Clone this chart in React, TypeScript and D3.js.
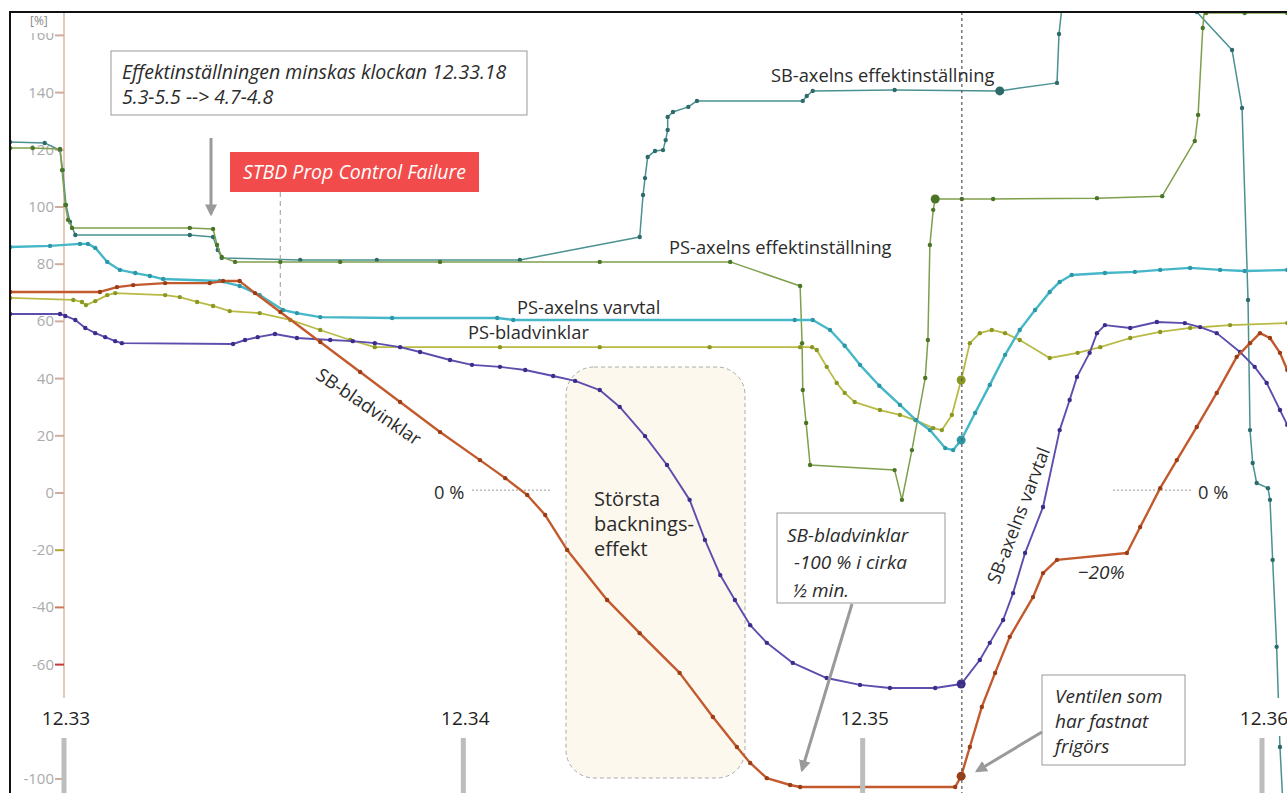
import React from "react";
import * as d3 from "d3";

// time in seconds after 12:33:00, value in %
const timeTickLabels = ["12.33", "12.34", "12.35", "12.36"];
const timeTickSeconds = [0, 60, 120, 180];
const yTickValues = [160, 140, 120, 100, 80, 60, 40, 20, 0, -20, -40, -60, -100];

type P = [number, number];

const sbEffekt: P[] = [
  [-8.1, 122.7], [-2.9, 122.4], [-0.6, 119.9], [-0.2, 112.9], [0.3, 100.7], [0.9, 94.8], [1.7, 90.2],
  [18.9, 90.2], [22.4, 89.5], [23.1, 85], [23.7, 82.2], [35.5, 81.5], [47, 81.5], [68.5, 81.5],
  [86.5, 89.5], [87, 104.2], [87.3, 110.1], [87.7, 117.5], [88.8, 119.6], [90, 119.9], [90.4, 123.4],
  [90.7, 126.9], [90.7, 131.5], [91.5, 133.2], [93.8, 135], [95.1, 137.1], [111, 137.1], [111.6, 138.8],
  [112.5, 140.6], [124.8, 140.9], [140.6, 140.6], [149.2, 143.4], [149.5, 160.5], [149.9, 168.9],
  [150.2, 174], [169.2, 174], [170.2, 168.2], [175.5, 154.9], [177, 134.6], [177.9, 67.5], [178.2, 22],
  [178.6, 10.5], [179.2, 3.5], [180.9, 1.7], [181.2, -2.4], [181.6, -23.4], [182.2, -53.8], [182.7, -88.8],
  [183.1, -107],
];

const psEffekt: P[] = [
  [-8.1, 120.6], [-4.7, 120.6], [-0.6, 120.3], [-0.3, 112.9], [0.2, 100.7], [0.6, 95.5], [1.2, 92.7],
  [18.9, 92.7], [22.4, 92.3], [23, 86.7], [23.7, 82.5], [25.7, 80.8], [32.5, 80.8], [41.5, 80.8],
  [56.5, 80.8], [80.5, 80.8], [100.1, 80.8], [110.6, 72.4], [110.9, 52.4], [111, 36], [111.5, 24.5],
  [112.1, 9.8], [124.8, 8], [125.9, -2.4], [127.4, 15], [129.4, 40.2], [129.8, 53.5], [130.1, 86.7],
  [130.6, 99], [130.9, 102.8], [134.9, 102.8], [139.6, 102.8], [155.2, 103.1], [165, 103.8],
  [169.9, 123.1], [170.4, 132.2], [171.1, 162.6], [171.4, 170.6], [171.6, 167.8], [177.4, 167.8], [183.8, 167.8],
];

const psVarvtal: P[] = [
  [-8.1, 86], [-2.1, 86.4], [2.4, 87.1], [3.6, 87.1], [4.7, 85.7], [6.5, 80.8], [8.4, 78], [10.7, 76.9],
  [12.9, 75.9], [14.9, 74.8], [23.4, 74.1], [26.4, 72.4], [29.4, 69.2], [32.9, 64], [35, 62.9],
  [38.5, 61.5], [49.3, 61.2], [65.1, 61.2], [67.5, 60.5], [109.8, 60.5], [112.5, 60.5], [115.1, 57],
  [117.3, 51.5], [119.6, 44.8], [122.5, 37.5], [125.6, 30.8], [128, 25.5], [130.1, 22], [132.4, 15.7],
  [133.6, 15], [134.8, 18.5], [136.9, 28], [139.1, 37.8], [141.4, 48.3], [143.6, 57], [145.9, 64],
  [148.1, 70.3], [149.6, 73.8], [151.4, 76.2], [156.4, 76.9], [160.9, 77.3], [164.7, 78], [169.2, 78.7],
  [173.7, 78], [177.4, 77.6], [183.8, 78],
];

const psBlad: P[] = [
  [-8.1, 68.2], [1.4, 67.5], [2.7, 66.8], [3.3, 65.7], [4.7, 67.1], [6.5, 69.2], [7.7, 69.9], [15.2, 69.2],
  [17.4, 68.5], [20, 66.8], [22.4, 65.4], [24.9, 63.6], [29.4, 62.9], [34, 60.5], [38.5, 57], [43, 53.5],
  [46.7, 51], [65.5, 51], [80.5, 51], [97, 51], [110.6, 51], [112.4, 51], [113.1, 50], [114.6, 44.1],
  [116.1, 38.5], [117.3, 35], [118.8, 31.8], [122.6, 29], [125.6, 27.3], [127.9, 25.5], [130.6, 22.7],
  [131.9, 22], [133.4, 27.3], [134.8, 39.5], [136.1, 52.4], [137.6, 55.9], [139.4, 57], [141.4, 55.9],
  [143.6, 53.5], [148.1, 47.2], [152.3, 49], [155.7, 51], [160.2, 54.2], [164.7, 56.3], [169.2, 57.7],
  [175.2, 58.7], [183.8, 59.4],
];

const sbVarvtal: P[] = [
  [-8.1, 62.6], [-0.6, 62.6], [0.2, 61.9], [1.7, 60.5], [3.2, 57.7], [4.7, 55.9], [6.2, 54.5], [7.7, 53.1],
  [8.7, 52.4], [25.4, 52.1], [27.2, 53.5], [29.1, 54.5], [31.7, 55.6], [35, 54.2], [40, 53.5], [43.4, 53.1],
  [46.7, 52.4], [50.5, 51], [53.5, 49.3], [58, 46.5], [61.3, 44.8], [65.5, 44.1], [69.3, 43], [73.5, 40.9],
  [76.8, 39.2], [80.5, 36], [83.5, 30.1], [87.3, 19.9], [90.6, 9.8], [94, -2.4], [96.3, -16.4],
  [98.6, -28.7], [100.8, -37.4], [103.1, -46.2], [105.6, -52.4], [109.5, -59.4], [114.6, -64.7],
  [119.6, -67.1], [124.1, -68.2], [130.9, -68.2], [134.8, -66.8], [137.6, -58.4], [139.1, -52.4],
  [141.1, -44.4], [142.6, -35], [144.4, -21], [147.1, -4.9], [149.6, 22], [151.1, 32.5], [152.2, 40.6],
  [154.1, 49], [155.2, 55.9], [156.4, 58.7], [160.2, 57.7], [164.2, 59.8], [168.4, 59.4], [170.7, 58],
  [173.2, 55.9], [176.7, 49.3], [178.9, 44.1], [180.7, 38.5], [182.7, 29], [183.8, 23.8],
];

const sbBlad: P[] = [
  [-8.1, 70.3], [5.4, 70.3], [7.96, 72], [10.4, 72.7], [15.2, 73.4], [21.9, 73.4], [23.9, 74.1], [26.4, 74.1],
  [28.7, 69.9], [32.5, 63.3], [38.5, 52.8], [44.5, 42.3], [50.5, 31.8], [56.5, 21.3], [62.5, 11.5],
  [66.3, 5.2], [69.6, -0.7], [72.3, -7.7], [75.6, -19.9], [81.6, -37.4], [86.5, -49], [92.5, -62.9],
  [97.5, -78.3], [101.1, -88.8], [103.1, -94.4], [105.6, -99.7], [109.1, -102.1], [110.6, -102.8],
  [120, -102.8], [133.9, -102.8], [134.8, -99], [136.1, -88.8], [137.9, -74.8], [139.9, -62.9],
  [142.1, -50.3], [145.6, -36.4], [147.1, -28], [149.2, -23.4], [159.7, -21], [161.7, -11.9],
  [164.7, 1.7], [167.2, 11.5], [170.2, 23.1], [173.2, 35], [176.2, 47.6], [178.2, 52.4], [179.7, 55.9],
  [181.2, 54.2], [182.7, 49], [183.8, 43],
];

const seriesList = [
  { key: "sbEffekt", data: sbEffekt, color: "#4b9191", dot: "#2d6b6b", width: 1.5 },
  { key: "psEffekt", data: psEffekt, color: "#7f9f4c", dot: "#4a7525", width: 1.5 },
  { key: "psBlad", data: psBlad, color: "#b9ba45", dot: "#899820", width: 1.8 },
  { key: "psVarvtal", data: psVarvtal, color: "#45b7c8", dot: "#2b97a7", width: 2.4 },
  { key: "sbVarvtal", data: sbVarvtal, color: "#5d4eae", dot: "#3a2d8c", width: 1.9 },
  { key: "sbBlad", data: sbBlad, color: "#c25a2e", dot: "#9a3c14", width: 2.4 },
];

const bigMarkers: { key: string; t: number; v: number }[] = [
  { key: "sbEffekt", t: 140.6, v: 140.6 },
  { key: "psEffekt", t: 130.9, v: 102.8 },
  { key: "psVarvtal", t: 134.8, v: 18.5 },
  { key: "psBlad", t: 134.8, v: 39.5 },
  { key: "sbVarvtal", t: 134.8, v: -66.8 },
  { key: "sbBlad", t: 134.8, v: -99 },
];

const cursorSecond = 134.9;
const stbdSecond = 32.5;

const W = 1287;
const H = 793;

export default function App() {
  const x = d3.scaleLinear().domain([0, 180]).range([64, 1262]);
  const y = d3.scaleLinear().domain([-100, 160]).range([779, 35.4]);
  const line = d3
    .line<P>()
    .x((d) => x(d[0]))
    .y((d) => y(d[1]));
  const colorOf = (k: string) => seriesList.find((s) => s.key === k)!.dot;
  const font = "'Open Sans', 'Noto Sans', sans-serif";
  const txt = "#2b2b2b";
  const lab = 18.3;
  const ital = 19;
  const tickColor = (v: number) =>
    v === -20 ? "#b3a436" : v === -40 ? "#c87a5a" : v === -60 ? "#c23a3a" : "#d0ad9a";

  return (
    <svg
      width={W}
      height={H}
      style={{ position: "absolute", left: 0, top: 0, background: "#fff", fontFamily: font }}
    >
      <defs>
        <clipPath id="plot">
          <rect x={10} y={12} width={W - 10} height={H - 12} />
        </clipPath>
        <clipPath id="topTick">
          <rect x={0} y={33} width={64} height={H} />
        </clipPath>
        <marker id="arr" viewBox="0 0 10 10" refX="8" refY="5" markerWidth="4" markerHeight="4" orient="auto">
          <path d="M0,0 L10,5 L0,10 z" fill="#9a9a9a" />
        </marker>
      </defs>

      {/* y axis */}
      <line x1={64} x2={64} y1={12} y2={700} stroke="#dcb9a6" strokeWidth={1.5} />
      <g clipPath="url(#topTick)">
        {yTickValues.map((v) => (
          <g key={v}>
            <line x1={55} x2={64} y1={y(v)} y2={y(v)} stroke={tickColor(v)} strokeWidth={2} />
            <text x={54} y={y(v) + 5} textAnchor="end" fontSize={15} fill="#ababab">
              {v}
            </text>
          </g>
        ))}
      </g>
      <text x={30} y={25} fontSize={12} fill="#888">[%]</text>

      {/* Största backningseffekt box */}
      <rect x={566} y={367} width={179} height={411} rx={28} fill="#fdf8ee" stroke="#aaa" strokeDasharray="4,3" />
      <text fontSize={20} fill={txt}>
        <tspan x={594} y={506}>Största</tspan>
        <tspan x={594} y={531}>backnings-</tspan>
        <tspan x={594} y={556}>effekt</tspan>
      </text>

      {/* zero reference dotted lines */}
      <line x1={472} x2={552} y1={y(1)} y2={y(1)} stroke="#999" strokeDasharray="2,2" />
      <text x={434} y={499} fontSize={lab} fill={txt}>0 %</text>
      <line x1={1113} x2={1192} y1={y(1)} y2={y(1)} stroke="#999" strokeDasharray="2,2" />
      <text x={1198} y={499} fontSize={lab} fill={txt}>0 %</text>

      {/* series */}
      <g clipPath="url(#plot)">
        {seriesList.map((s) => (
          <g key={s.key}>
            <path d={line(s.data) || ""} fill="none" stroke={s.color} strokeWidth={s.width} strokeLinejoin="round" />
            {s.data.map((d, i) => (
              <circle key={i} cx={x(d[0])} cy={y(d[1])} r={2.2} fill={s.dot} />
            ))}
          </g>
        ))}
        {bigMarkers.map((m, i) => (
          <circle key={i} cx={x(m.t)} cy={y(m.v)} r={4.5} fill={colorOf(m.key)} />
        ))}
      </g>

      {/* cursor line */}
      <line x1={x(cursorSecond)} x2={x(cursorSecond)} y1={12} y2={H} stroke="#555" strokeDasharray="3,3" strokeWidth={1.2} />

      {/* STBD failure dashed line */}
      <line x1={x(stbdSecond)} x2={x(stbdSecond)} y1={192} y2={305} stroke="#aaa" strokeDasharray="5,4" strokeWidth={1.2} />

      {/* series labels */}
      <text x={771} y={82} fontSize={lab} fill={txt}>SB-axelns effektinställning</text>
      <text x={669} y={254} fontSize={lab} fill={txt}>PS-axelns effektinställning</text>
      <text x={517} y={314} fontSize={lab} fill={txt}>PS-axelns varvtal</text>
      <text x={468} y={339} fontSize={lab} fill={txt}>PS-bladvinklar</text>
      <text x={368} y={408} fontSize={lab} fill={txt} textAnchor="middle" dominantBaseline="middle" transform="rotate(34 368 408)">
        SB-bladvinklar
      </text>
      <text x={1020} y={516} fontSize={lab} fill={txt} textAnchor="middle" dominantBaseline="middle" transform="rotate(-69 1020 516)">
        SB-axelns varvtal
      </text>
      <text x={1078} y={579} fontSize={ital} fill={txt} fontStyle="italic">−20%</text>

      {/* Effekt annotation */}
      <rect x={111} y={51} width={416} height={64} fill="#fff" stroke="#999" />
      <text fontSize={19.5} fill={txt} fontStyle="italic">
        <tspan x={122} y={79}>Effektinställningen minskas klockan 12.33.18</tspan>
        <tspan x={122} y={104}>5.3-5.5  --&gt;  4.7-4.8</tspan>
      </text>
      <line x1={211} x2={211} y1={138} y2={214} stroke="#9a9a9a" strokeWidth={3} markerEnd="url(#arr)" />

      {/* STBD box */}
      <rect x={230} y={152} width={249} height={40} fill="#f24b4b" />
      <text x={243} y={179} fontSize={19.5} fill="#fff" fontStyle="italic">STBD Prop Control Failure</text>

      {/* SB-bladvinklar box */}
      <rect x={777} y={513} width={168} height={90} fill="#fff" stroke="#999" />
      <text fontSize={ital} fill={txt} fontStyle="italic">
        <tspan x={787} y={542}>SB-bladvinklar</tspan>
        <tspan x={789} y={569}> -100 % i cirka</tspan>
        <tspan x={792} y={597}>½ min.</tspan>
      </text>
      <line x1={852} x2={802} y1={604} y2={770} stroke="#9a9a9a" strokeWidth={3} markerEnd="url(#arr)" />

      {/* Ventilen box */}
      <rect x={1042} y={675} width={143} height={90} fill="#fff" stroke="#999" />
      <text fontSize={ital} fill={txt} fontStyle="italic">
        <tspan x={1055} y={703}>Ventilen som</tspan>
        <tspan x={1055} y={728}>har fastnat</tspan>
        <tspan x={1055} y={753}>frigörs</tspan>
      </text>
      <line x1={1042} x2={977} y1={732} y2={771} stroke="#9a9a9a" strokeWidth={3} markerEnd="url(#arr)" />

      {/* time axis labels */}
      {timeTickSeconds.map((s, i) => (
        <g key={s}>
          <rect x={x(s) - 36} y={698} width={72} height={38} fill="#fff" />
          <text x={x(s) + 2} y={725} fontSize={19} fill="#222" textAnchor="middle">
            {timeTickLabels[i]}
          </text>
          <rect x={x(s) - 2.5} y={738} width={5} height={H - 738} fill="#bdbdbd" />
        </g>
      ))}

      {/* frame */}
      <rect x={10} y={12} width={W + 20} height={H + 20} fill="none" stroke="#111" strokeWidth={2} />
    </svg>
  );
}
